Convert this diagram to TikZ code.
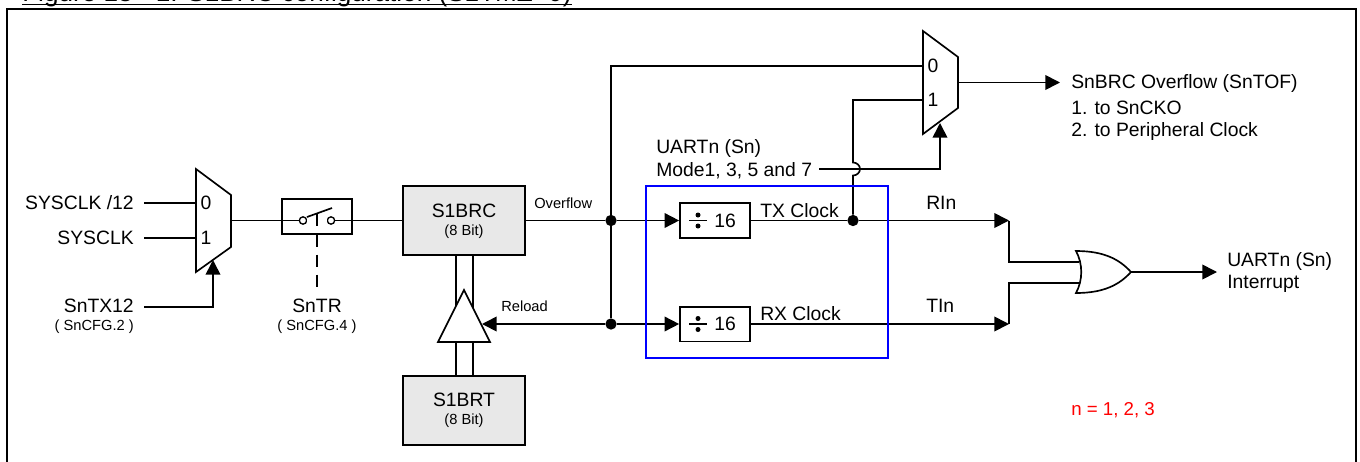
\documentclass[tikz,border=0pt]{standalone}
\usepackage{fontspec}
\setmainfont{Liberation Sans}
\usetikzlibrary{arrows.meta,positioning,calc}

\tikzset{
    wire/.style={line width=1.25pt, line join=miter},
    sig/.style={wire, -{Triangle[length=11pt,width=11pt]}},
    dotnode/.style={circle, fill=black, inner sep=0pt, minimum size=8.5pt},
    regbox/.style={draw, line width=1.25pt, fill=black!9, minimum width=91.5pt, minimum height=51.5pt, inner sep=0pt, align=center},
    divbox/.style={draw, line width=1.25pt, fill=white, minimum width=52.5pt, minimum height=26pt, inner sep=0pt},
    lbl/.style={inner sep=0pt, font=\fontsize{14.5}{17}\selectfont},
    small/.style={inner sep=0pt, font=\fontsize{11}{13}\selectfont},
    muxshape/.style={draw, line width=1.25pt, fill=white, line join=miter}
}

\begin{document}
\begin{tikzpicture}[x=0.75pt, y=-0.75pt]
        \useasboundingbox (0,0) rectangle (1360,461);
        % title and frame
        \node[anchor=base west, inner sep=0pt, font=\fontsize{19.6}{22}\selectfont] (title) at (22,1) {Figure 13 - 1. S1BRC configuration (S1TMZ=0)};
        \draw[line width=1pt] (22,4.5) -- (title.base east |- 0,4.5);
        \draw[line width=1.6pt] (7,470) -- (7,9) -- (1356,9) -- (1356,470);

        % input mux
        \draw[muxshape] (196,169) -- (231,195) -- (231,247) -- (196,272) -- cycle;
        \coordinate (muxa0) at (196,203);
        \coordinate (muxa1) at (196,238);
        \coordinate (muxaout) at (231,220.5);
        \coordinate (muxasel) at (213,260);
        \node[lbl] (muxa0t) at (206,203) {0};
        \node[lbl] (muxa1t) at (206,238) {1};
        \node[lbl, anchor=east] (clk12) at (134,203) {SYSCLK /12};
        \node[lbl, anchor=east] (clk) at (134,238) {SYSCLK};
        \node[lbl, anchor=east] (tx12) at (134,306) {SnTX12};
        \node[small, anchor=east] (cfgb) at (134,327) {( SnCFG.2 )};
        \draw[wire] (144,203) -- (muxa0);
        \draw[wire] (144,238) -- (muxa1);
        \coordinate (tx12r) at (144,307);
        \draw[sig] (tx12r) -| (muxasel);

        % switch
        \node[draw, line width=1.25pt, minimum width=52.5pt, minimum height=26pt, inner sep=0pt] (sw) at (317,216.5) {};
        \node[regbox] (brc) at (464,220.5) {};
        \node[lbl] (brct) at (464,211) {S1BRC};
        \node[small] (brcs) at (464,232) {(8 Bit)};
        \draw[wire] (muxaout) -- (brc.west);
        \node[draw, circle, line width=1pt, fill=white, inner sep=0pt, minimum size=5.5pt] (swa) at (303,220.5) {};
        \node[draw, circle, line width=1pt, fill=white, inner sep=0pt, minimum size=5.5pt] (swb) at (331,220.5) {};
        \fill[white] (307,219) rectangle (327,222);
        \draw[wire] (307,217) -- (332,208);
        \draw[wire] (317,214) -- (317,226);
        \coordinate (swend) at (317,290);
        \draw[wire, dash pattern=on 9pt off 6pt] (sw.south) -- (swend);
        \node[lbl] (tr) at (317,306) {SnTR};
        \node[small] (cfgd) at (317,327) {( SnCFG.4 )};

        % reload path
        \node[regbox] (brt) at (464,410.5) {};
        \node[lbl] (brtt) at (464,400) {S1BRT};
        \node[small] (brts) at (464,421) {(8 Bit)};
        \draw[wire] (456,255) -- (456,376);
        \draw[wire] (473,255) -- (473,376);
        \draw[wire, fill=white] (464,290) -- (490,342) -- (438,342) -- cycle;
        \coordinate (trir) at (482,324);
        \node[small, anchor=west] (over) at (534,203) {Overflow};
        \node[small, anchor=west] (rel) at (501,306) {Reload};

        % dividers
        \node[divbox] (diva) at (715,220.5) {};
        \node[divbox] (divb) at (715,324) {};
        \node[dotnode] (ja) at (611,220.5) {};
        \node[dotnode] (jb) at (611,324) {};
        \node[dotnode] (jc) at (853,220.5) {};
        \foreach \d in {diva,divb} {
            \node[lbl] at ($(\d)+(10,0)$) {16};
            \draw[wire] ($(\d)+(-26,0)$) -- ($(\d)+(-8,0)$);
            \fill ($(\d)+(-17,-5.5)$) circle (2.5);
            \fill ($(\d)+(-17,5.5)$) circle (2.5);
        }
        \draw[wire] (brc.east) -- (ja);
        \draw[sig] (ja) -- (diva.west);
        \draw[sig] (jb) -- (divb.west);
        \draw[sig] (jb) -- (trir);
        \draw[wire] (ja) -- (jb);
        \node[lbl, anchor=west] (txc) at (760,211) {TX Clock};
        \node[lbl, anchor=west] (rxc) at (760,314) {RX Clock};

        % output mux
        \draw[muxshape] (923,31) -- (958,57) -- (958,108) -- (923,134) -- cycle;
        \coordinate (muxb0) at (923,66);
        \coordinate (muxb1) at (923,100);
        \coordinate (muxbout) at (958,82.5);
        \coordinate (muxbsel) at (940,123);
        \node[lbl] (muxb0t) at (933,66) {0};
        \node[lbl] (muxb1t) at (933,100) {1};
        \draw[wire] (ja) |- (muxb0);
        \coordinate (modeend) at (819,169);
        \draw[sig] (modeend) -| (muxbsel);
        \draw[wire] (jc) -- (853,175.5) arc[start angle=90, end angle=-90, x radius=7, y radius=6.5] -- (853,100) -- (muxb1);
        \node[lbl, anchor=west] (uart) at (656,148) {UARTn (Sn)};
        \node[lbl, anchor=west] (mode) at (656,171) {Mode1, 3, 5 and 7};
        \coordinate (ovfend) at (1060,82.5);
        \draw[sig] (muxbout) -- (ovfend);
        \node[lbl, anchor=west] (ovf) at (1071,83) {SnBRC Overflow (SnTOF)};
        \node[lbl, anchor=west] (ovfa) at (1071,108) {1. to SnCKO};
        \node[lbl, anchor=west] (ovfb) at (1071,131) {2. to Peripheral Clock};

        % or gate
        \coordinate (rin) at (1009,220.5);
        \coordinate (tin) at (1009,324);
        \coordinate (orin) at (1079,262);
        \coordinate (orib) at (1079,283);
        \coordinate (orout) at (1131,272);
        \coordinate (intr) at (1217,272);
        \draw[sig] (jc) -- (rin);
        \draw[sig] (divb.east) -- (tin);
        \draw[wire] (diva.east) -- (jc);
        \draw[wire] (rin) |- (orin);
        \draw[wire] (tin) |- (orib);
        \draw[wire, fill=white] (1076,251) .. controls (1105,251) and (1120,260) .. (orout) .. controls (1120,284) and (1105,293) .. (1076,293) .. controls (1083,280) and (1083,264) .. (1076,251) -- cycle;
        \draw[sig] (orout) -- (intr);
        \node[lbl, anchor=west] (uarti) at (1227,261) {UARTn (Sn)};
        \node[lbl, anchor=west] (intt) at (1227,284) {Interrupt};
        \node[red, anchor=west, inner sep=0pt, font=\fontsize{14}{16}\selectfont] (nn) at (1071,410) {n = 1, 2, 3};
        \node[lbl, anchor=west] (rint) at (926,203) {RIn};
        \node[lbl, anchor=west] (tint) at (926,306) {TIn};

        % blue window
        \draw[blue, line width=1.25pt] (646,186) rectangle (888,358);
    \end{tikzpicture}
\end{document}
